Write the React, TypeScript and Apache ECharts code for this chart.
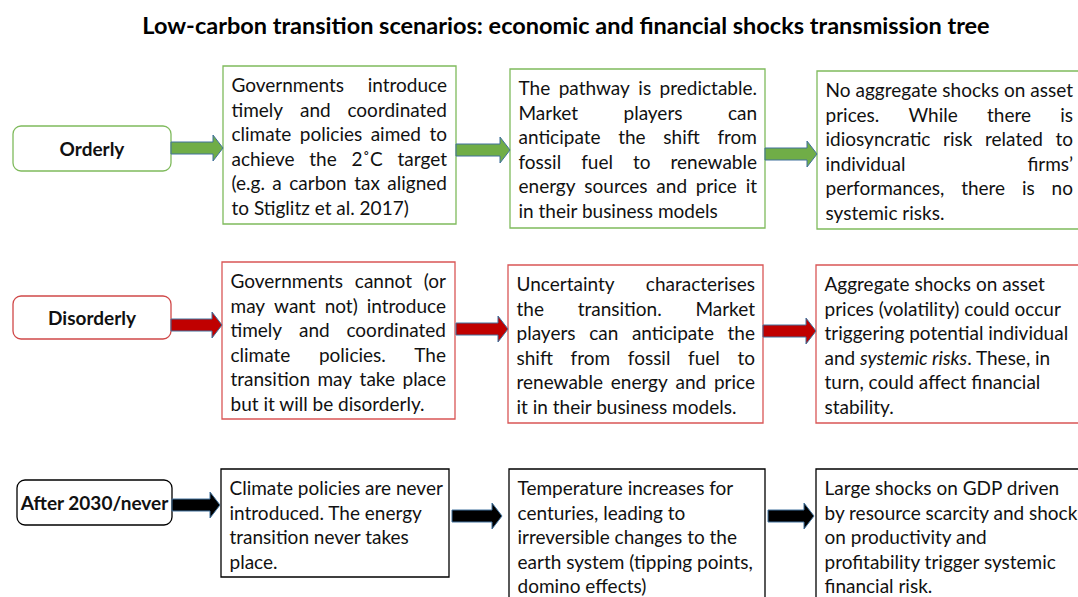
import React, { useEffect, useRef } from "react";
import * as echarts from "echarts";

// ---------- content ----------
const TITLE = "Low-carbon transition scenarios: economic and financial shocks transmission tree";

const scenarios = ["Orderly", "Disorderly", "After 2030/never"];

const policyLines = [
  [
    "Governments introduce",
    "timely and coordinated",
    "climate policies aimed to",
    "achieve the 2˚C target",
    "(e.g. a carbon tax aligned",
    "to Stiglitz et al. 2017)",
  ],
  [
    "Governments cannot (or",
    "may want not) introduce",
    "timely and coordinated",
    "climate policies. The",
    "transition may take place",
    "but it will be disorderly.",
  ],
  [
    "Climate policies are never",
    "introduced. The energy",
    "transition never takes",
    "place.",
  ],
];

const marketLines = [
  [
    "The pathway is predictable.",
    "Market players can",
    "anticipate the shift from",
    "fossil fuel to renewable",
    "energy sources and price it",
    "in their business models",
  ],
  [
    "Uncertainty characterises",
    "the transition. Market",
    "players can anticipate the",
    "shift from fossil fuel to",
    "renewable energy and price",
    "it in their business models.",
  ],
  [
    "Temperature increases for",
    "centuries, leading to",
    "irreversible changes to the",
    "earth system (tipping points,",
    "domino effects)",
  ],
];

const impactLines = [
  [
    "No aggregate shocks on asset",
    "prices. While there is",
    "idiosyncratic risk related to",
    "individual firms’",
    "performances, there is no",
    "systemic risks.",
  ],
  [
    "Aggregate shocks on asset",
    "prices (volatility) could occur",
    "triggering potential individual",
    "and {i|systemic risks}. These, in",
    "turn, could affect financial",
    "stability.",
  ],
  [
    "Large shocks on GDP driven",
    "by resource scarcity and shock",
    "on productivity and",
    "profitability trigger systemic",
    "financial risk.",
  ],
];

// justified paragraphs (per row: policy, market, impact)
const justified = [
  [true, true, true],
  [true, true, false],
  [false, false, false],
];

// ---------- layout & style ----------
const FONT = "Lato";
const BODY = 19;
const TITLE_SIZE = 23.5;
const LINE_H = 24.5;

const rowStyles = [
  { border: "#7FBA5C", label: "#7FBA5C", arrow: "#70AD47" },
  { border: "#D95656", label: "#D04848", arrow: "#C00000" },
  { border: "#000000", label: "#000000", arrow: "#000000" },
];
const ARROW_STROKE = "#41719C";

const layout = [
  {
    label: { x: 13, y: 126, w: 158, h: 45 },
    boxes: [
      { x: 223, y: 66, w: 233, h: 158, right: 447 },
      { x: 510, y: 69, w: 255, h: 159, right: 757 },
      { x: 817, y: 71, w: 275, h: 158, right: 1073 },
    ],
    arrows: [
      [171, 223, 148],
      [456, 510, 150],
      [765, 817, 154],
    ],
  },
  {
    label: { x: 13, y: 296, w: 158, h: 43 },
    boxes: [
      { x: 222, y: 262, w: 233, h: 157, right: 446 },
      { x: 508, y: 265, w: 255, h: 158, right: 755 },
      { x: 816, y: 265, w: 275, h: 158, right: 1073 },
    ],
    arrows: [
      [171, 222, 325],
      [456, 508, 329],
      [763, 816, 331],
    ],
  },
  {
    label: { x: 17, y: 480, w: 155, h: 45 },
    boxes: [
      { x: 221, y: 469, w: 228, h: 108, right: 440 },
      { x: 509, y: 469, w: 256, h: 150, right: 757 },
      { x: 816, y: 469, w: 275, h: 150, right: 1073 },
    ],
    arrows: [
      [172, 220, 505],
      [452, 502, 516],
      [768, 814, 516],
    ],
  },
];

// ---------- helpers ----------
let ctx: CanvasRenderingContext2D | null = null;
function textWidth(s: string, size: number, weight = "normal") {
  if (!ctx) ctx = document.createElement("canvas").getContext("2d");
  ctx!.font = `${weight} ${size}px ${FONT}`;
  return ctx!.measureText(s).width;
}

function arrowPoints(x0: number, x1: number, cy: number) {
  const sh = 6,
    hh = 13,
    hl = 10;
  return [
    [x0, cy - sh],
    [x1 - hl, cy - sh],
    [x1 - hl, cy - hh],
    [x1, cy],
    [x1 - hl, cy + hh],
    [x1 - hl, cy + sh],
    [x0, cy + sh],
  ];
}

function textEl(text: string, x: number, y: number, extra: any = {}) {
  return {
    type: "text",
    x,
    y,
    z: 10,
    style: {
      text,
      fontFamily: FONT,
      fontSize: BODY,
      fill: "#111",
      align: "left",
      verticalAlign: "middle",
      ...extra,
    },
  };
}

function paragraph(lines: string[], box: any, just: boolean) {
  const els: any[] = [];
  const x0 = box.x + 8.5;
  const x1 = box.right;
  lines.forEach((line, i) => {
    const y = box.y + 18.5 + i * LINE_H;
    const isLast = i === lines.length - 1;
    const words = line.split(" ");
    if (just && !isLast && words.length > 1) {
      const widths = words.map((w) => textWidth(w, BODY));
      const total = widths.reduce((a, b) => a + b, 0);
      const gap = (x1 - x0 - total) / (words.length - 1);
      let cx = x0;
      words.forEach((w, k) => {
        els.push(textEl(w, cx, y));
        cx += widths[k] + gap;
      });
    } else {
      els.push(
        textEl(line, x0, y, {
          rich: {
            i: { fontStyle: "italic", fontFamily: FONT, fontSize: BODY, fill: "#111" },
          },
        })
      );
    }
  });
  return els;
}

export default function App() {
  const ref = useRef<HTMLDivElement>(null);
  useEffect(() => {
    const chart = echarts.init(ref.current!, null, { renderer: "svg" });
    const elements: any[] = [];

    elements.push({
      type: "text",
      x: 566,
      y: 25,
      style: {
        text: TITLE,
        fontFamily: FONT,
        fontSize: TITLE_SIZE,
        fontWeight: "bold",
        fill: "#000",
        align: "center",
        verticalAlign: "middle",
      },
    });

    const contents = [policyLines, marketLines, impactLines];

    layout.forEach((row, r) => {
      const st = rowStyles[r];
      const L = row.label;
      elements.push({
        type: "rect",
        shape: { x: L.x, y: L.y, width: L.w, height: L.h, r: 8 },
        style: { fill: "#fff", stroke: st.label, lineWidth: 1.3 },
      });
      elements.push({
        type: "text",
        x: L.x + L.w / 2,
        y: L.y + L.h / 2,
        z: 10,
        style: {
          text: scenarios[r],
          fontFamily: FONT,
          fontSize: BODY,
          fontWeight: "bold",
          fill: "#111",
          align: "center",
          verticalAlign: "middle",
        },
      });

      row.boxes.forEach((b, c) => {
        elements.push({
          type: "rect",
          shape: { x: b.x, y: b.y, width: b.w, height: b.h },
          style: { fill: "#fff", stroke: st.border, lineWidth: 1.3 },
        });
        elements.push(...paragraph(contents[c][r], b, justified[r][c]));
      });

      row.arrows.forEach(([x0, x1, cy]) => {
        elements.push({
          type: "polygon",
          z: 5,
          shape: { points: arrowPoints(x0, x1, cy) },
          style: { fill: st.arrow, stroke: ARROW_STROKE, lineWidth: 1 },
        });
      });
    });

    chart.setOption({
      animation: false,
      backgroundColor: "#ffffff",
      graphic: { elements },
    });
    return () => chart.dispose();
  }, []);

  return (
    <div
      ref={ref}
      style={{ position: "fixed", left: 0, top: 0, width: "1078px", height: "597px", background: "#fff" }}
    />
  );
}
